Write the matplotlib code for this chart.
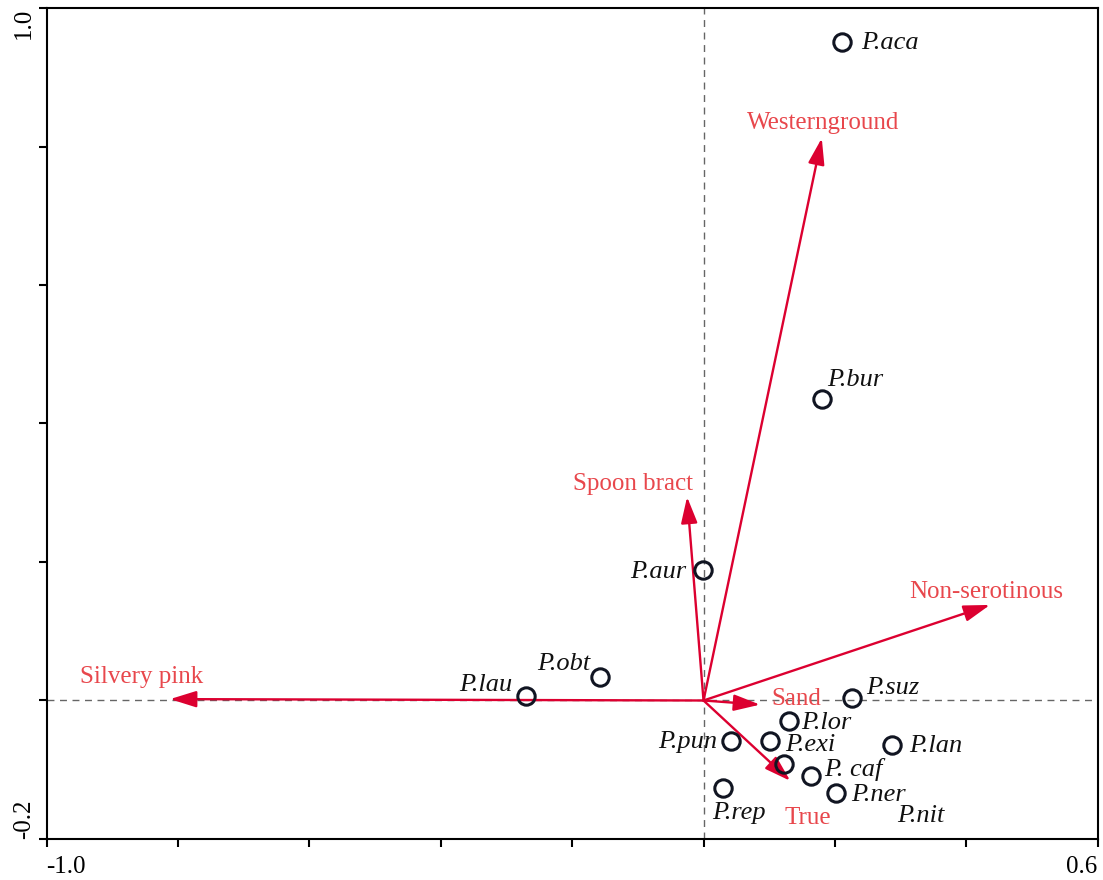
import matplotlib
matplotlib.use("Agg")
import matplotlib.pyplot as plt

# especies (escores)
especies = ["P.aca", "P.bur", "P.aur", "P.obt", "P.lau", "P.suz", "P.lor",
            "P.exi", "P.pun", "P.lan", "P.nit", "P. caf", "P.ner", "P.rep"]
esp_x = [0.211, 0.180, -0.001, -0.158, -0.270, 0.226, 0.130,
         0.101, 0.042, 0.287, 0.122, 0.164, 0.202, 0.030]
esp_y = [0.951, 0.435, 0.188, 0.034, 0.006, 0.004, -0.030,
         -0.058, -0.058, -0.064, -0.092, -0.109, -0.134, -0.126]
# deslocamento do rotulo (pontos) e alinhamento
rot_dx = [14, 4, -12, -7, -10, 10, 9, 11, -10, 12, 82, 9, 11, -8]
rot_dy = [-1, 14, -1, 9, 8, 7, -1, -3, -1, -1, -37, 5, -1, -18]
rot_ha = ["left", "left", "right", "right", "right", "left", "left",
          "left", "right", "left", "left", "left", "left", "left"]

# variaveis (vetores)
variaveis = ["Westernground", "Spoon bract", "Non-serotinous",
             "Silvery pink", "Sand", "True"]
var_x = [0.180, -0.025, 0.436, -0.812, 0.086, 0.132]
var_y = [0.812, 0.294, 0.138, 0.002, -0.006, -0.116]
var_lx = [0.182, -0.107, 0.430, -0.855, 0.142, 0.159]
var_ly = [0.834, 0.313, 0.156, 0.034, 0.002, -0.170]

plt.rcParams['font.family'] = ['Liberation Serif', 'DejaVu Serif']

fig = plt.figure(figsize=(11.03, 8.8), dpi=100)
ax = fig.add_axes([0.0422, 0.0466, 0.953, 0.9443])

ax.set_xlim(-1.0, 0.6)
ax.set_ylim(-0.2, 1.0)

ax.axvline(0, color="#666666", lw=1.0, ls=(0, (5, 4)), zorder=1)
ax.axhline(0, color="#666666", lw=1.0, ls=(0, (5, 4)), zorder=1)

vermelho = "#DC0030"
for nome, x, y, lx, ly in zip(variaveis, var_x, var_y, var_lx, var_ly):
    ax.annotate("", xy=(x, y), xytext=(0, 0),
                arrowprops=dict(arrowstyle="-|>,head_length=0.8,head_width=0.25",
                                color=vermelho, lw=1.7, mutation_scale=20,
                                shrinkA=0, shrinkB=0), zorder=3)
    ax.text(lx, ly, nome, color="#E8474C", fontsize=18,
            ha="center", va="center", zorder=4)

for i, nome in enumerate(especies):
    ax.plot(esp_x[i], esp_y[i], marker="o", ms=12.5, mfc="none",
            mec="#111522", mew=2.2, ls="none", zorder=5)
    ax.annotate(nome, (esp_x[i], esp_y[i]), xytext=(rot_dx[i], rot_dy[i]),
                textcoords="offset points", ha=rot_ha[i], va="center",
                fontsize=19, style="italic", color="#111111", zorder=6)

for s in ax.spines.values():
    s.set_linewidth(1.5)

xt = [-1.0, -0.8, -0.6, -0.4, -0.2, 0.0, 0.2, 0.4, 0.6]
yt = [-0.2, 0.0, 0.2, 0.4, 0.6, 0.8, 1.0]
ax.set_xticks(xt)
ax.set_yticks(yt)
ax.set_xticklabels(["-1.0"] + [""] * 7 + ["0.6"])
ax.set_yticklabels(["-0.2"] + [""] * 5 + ["1.0"])
ax.tick_params(axis="both", direction="out", length=6, width=1.5,
               labelsize=18, pad=6)
xl = ax.get_xticklabels()
xl[0].set_ha("left")
xl[-1].set_ha("right")
yl = ax.get_yticklabels()
for t in yl:
    t.set_rotation(90)
    t.set_ha("center")
yl[0].set_va("bottom")
yl[-1].set_va("top")
ax.tick_params(axis="y", pad=10)

fig.savefig("out.png", dpi=100)
